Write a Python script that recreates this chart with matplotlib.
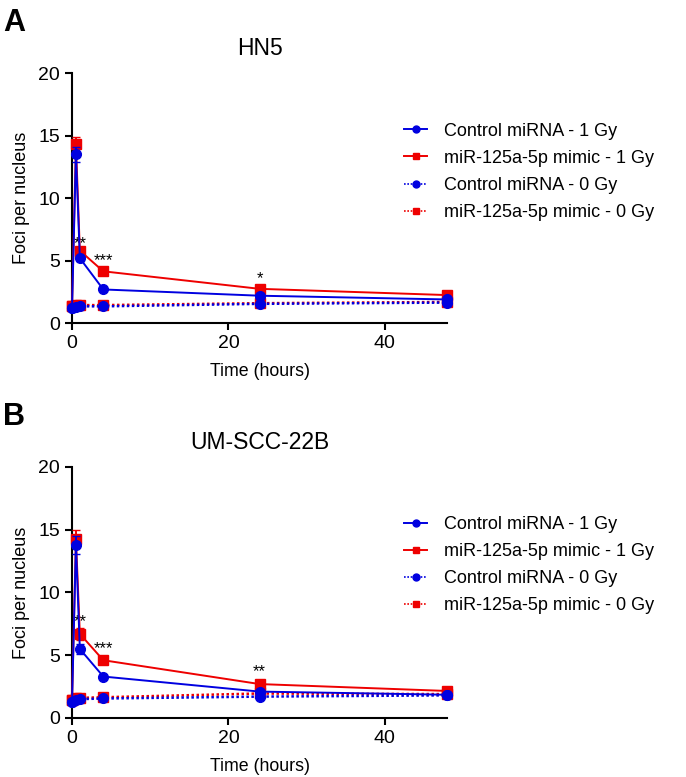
import numpy as np
import matplotlib.pyplot as plt
import matplotlib
from matplotlib.lines import Line2D

matplotlib.rcParams['font.family'] = ['Liberation Sans', 'DejaVu Sans']

time_h = [0, 0.5, 1, 4, 24, 48]
labels = ["Control miRNA - 1 Gy", "miR-125a-5p mimic - 1 Gy",
          "Control miRNA - 0 Gy", "miR-125a-5p mimic - 0 Gy"]

# panel A, HN5
hn5_ctrl_1gy = [1.2, 13.5, 5.2, 2.7, 2.2, 1.9]
hn5_mimic_1gy = [1.4, 14.3, 5.8, 4.15, 2.75, 2.25]
hn5_ctrl_0gy = [1.2, 1.3, 1.35, 1.35, 1.55, 1.65]
hn5_mimic_0gy = [1.4, 1.45, 1.45, 1.45, 1.6, 1.7]
hn5_ctrl_1gy_err = [0.1, 0.6, 0.2, 0.1, 0.1, 0.1]
hn5_mimic_1gy_err = [0.1, 0.6, 0.3, 0.15, 0.15, 0.1]
hn5_stars = [(1, "**", 5.8), (4, "***", 4.4), (24, "*", 2.95)]

# panel B, UM-SCC-22B
um_ctrl_1gy = [1.25, 13.8, 5.5, 3.3, 2.1, 1.85]
um_mimic_1gy = [1.4, 14.3, 6.7, 4.6, 2.7, 2.15]
um_ctrl_0gy = [1.25, 1.4, 1.5, 1.55, 1.7, 1.8]
um_mimic_0gy = [1.4, 1.55, 1.6, 1.65, 1.95, 1.9]
um_ctrl_1gy_err = [0.1, 0.7, 0.4, 0.15, 0.1, 0.1]
um_mimic_1gy_err = [0.1, 0.7, 0.45, 0.2, 0.15, 0.1]
um_stars = [(1, "**", 7.05), (4, "***", 4.9), (24, "**", 3.1)]

BLUE = '#0000e0'
RED = '#ee0000'

fig = plt.figure(figsize=(6.86, 7.77), dpi=100)

def panel(rect, title, letter, ctrl1, mim1, ctrl0, mim0, ctrl1_err, mim1_err, stars, leg_y):
  ax = fig.add_axes(rect)
  ax.errorbar(time_h, ctrl1, yerr=ctrl1_err, color=BLUE, marker='o', ms=7,
              lw=1.4, capsize=3, zorder=4)
  ax.errorbar(time_h, mim1, yerr=mim1_err, color=RED, marker='s', ms=7,
              lw=1.4, capsize=3, zorder=3)
  ax.plot(time_h, ctrl0, color=BLUE, marker='o', ms=7, ls=(0, (1, 1)), lw=1.8, zorder=4)
  ax.plot(time_h, mim0, color=RED, marker='s', ms=7, ls=(0, (1, 1)), lw=1.8, zorder=2)
  for x, s, y in stars:
    ax.text(x, y, s, ha='center', va='bottom', fontsize=12)
  ax.set_xlim(0, 48)
  ax.set_ylim(0, 20)
  ax.set_xticks([0, 20, 40])
  ax.set_yticks([0, 5, 10, 15, 20])
  for side in ['top', 'right']:
    ax.spines[side].set_visible(False)
  for side in ['left', 'bottom']:
    ax.spines[side].set_linewidth(1.5)
  ax.tick_params(width=1.5, length=5, labelsize=14)
  ax.set_xlabel("Time (hours)", fontsize=12.8, labelpad=8)
  ax.set_ylabel("Foci per nucleus", fontsize=13, labelpad=6)
  ax.set_title(title, fontsize=16.5, pad=13)
  for c in ax.get_children():
    c.set_clip_on(False)
  fig.text(0.005, rect[1] + rect[3] + 0.064, letter, fontsize=22, fontweight='bold', va='center')
  handles = [
    Line2D([], [], color=BLUE, marker='o', ms=5, lw=1.4),
    Line2D([], [], color=RED, marker='s', ms=5, lw=1.4),
    Line2D([], [], color=BLUE, marker='o', ms=5, lw=1.2, ls=(0, (1, 1))),
    Line2D([], [], color=RED, marker='s', ms=5, lw=1.2, ls=(0, (1, 1))),
  ]
  fig.legend(handles, labels, loc='upper left', bbox_to_anchor=(0.565, leg_y),
             frameon=False, fontsize=13, handlelength=1.3, labelspacing=0.56,
             handletextpad=0.95)
  return ax

panel([0.105, 0.584, 0.547, 0.322], "HN5", "A",
      hn5_ctrl_1gy, hn5_mimic_1gy, hn5_ctrl_0gy, hn5_mimic_0gy,
      hn5_ctrl_1gy_err, hn5_mimic_1gy_err, hn5_stars, 0.863)
panel([0.105, 0.076, 0.547, 0.323], "UM-SCC-22B", "B",
      um_ctrl_1gy, um_mimic_1gy, um_ctrl_0gy, um_mimic_0gy,
      um_ctrl_1gy_err, um_mimic_1gy_err, um_stars, 0.357)

fig.savefig("out.png", dpi=100)
